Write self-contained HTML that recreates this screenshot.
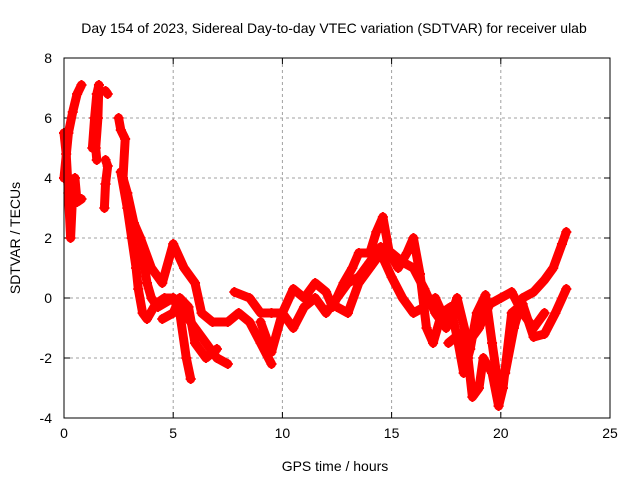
<!DOCTYPE html>
<html><head><meta charset="utf-8"><style>
body{margin:0;background:#fff}
svg text{font-family:"Liberation Sans",sans-serif;font-size:14px;fill:#000}
</style></head><body>
<svg id="chart" width="640" height="480" xmlns="http://www.w3.org/2000/svg">
<text x="334" y="33" text-anchor="middle">Day 154 of 2023, Sidereal Day-to-day VTEC variation (SDTVAR) for receiver ulab</text>
<g id="grid"></g>
<g id="axes"></g>
<g id="series"></g>
<rect x="64" y="58" width="546" height="360" fill="none" stroke="#000" stroke-width="1"/>
<text x="335" y="471" text-anchor="middle">GPS time / hours</text>
<text x="20" y="238" text-anchor="middle" transform="rotate(-90 20 238)">SDTVAR / TECUs</text>
</svg>
<script>
const xTicks=[0,5,10,15,20,25];
const yTicks=[-4,-2,0,2,4,6,8];
const arcA1=[[0,5.5],[0.1,4.8],[0.2,3.5],[0.3,2],[0.4,3.5],[0.5,4],[0.6,3.2],[0.8,3.3]];
const arcA2=[[0,4],[0.2,5.5],[0.4,6.2],[0.6,6.8],[0.8,7.1]];
const arcB=[[1.3,5],[1.4,6],[1.5,6.8],[1.6,7.1],[1.55,6],[1.45,5],[1.5,4.6]];
const arcC1=[[1.9,6.9],[2.0,6.8]];
const arcC2=[[1.9,4.6],[2.0,4.4],[1.9,3.8],[1.85,3]];
const arcD=[[2.5,6],[2.6,5.6],[2.8,5.3],[2.7,4],[2.9,3.5],[3.2,2.5],[3.5,2],[3.6,1.5],[3.8,0.5],[4,0],[4.3,-0.3],[5,0],[5.5,-0.5],[6,-1],[6.5,-1.5],[7,-2],[7.5,-2.2]];
const arcE=[[2.6,4.2],[2.9,3],[3.1,2],[3.3,1],[3.4,0.3],[3.6,-0.5],[3.8,-0.7],[4.2,-0.2],[4.6,0],[5,0],[5.3,-0.5],[5.6,-2],[5.8,-2.7]];
const arcF=[[3.5,2],[4,1],[4.5,0.5],[5,1.8],[5.5,1],[6,0.5],[6.3,-0.5],[6.8,-0.8],[7.5,-0.8],[8,-0.5],[8.5,-0.8],[9,-1.5],[9.5,-2.2]];
const arcG=[[4.5,-0.7],[5,-0.5],[5.3,0],[5.7,-0.3],[6,-1.5],[6.5,-2],[7,-1.7]];
const arcH=[[7.8,0.2],[8.5,0],[9,-0.5],[9.5,-0.5],[10,-0.5],[10.5,-1],[11,-0.3],[11.5,0],[12,-0.5],[12.5,0],[13,0.5],[13.5,0.7],[14,1.2],[14.5,1.7],[15,1.5],[15.5,1.2],[16,1.0],[16.5,0.3],[17,-0.5],[17.5,-1.0],[18,0],[18.5,-1.5],[19,-1],[19.5,-0.2],[20,0],[20.5,0.2],[21,-0.5],[21.5,-1],[22,-0.5]];
const arcI=[[9,-0.8],[9.5,-1.8],[10,-0.5],[10.5,0.3],[11,0],[11.5,0.5],[12,0.2],[12.3,-0.3],[12.8,0.5],[13.2,1],[13.5,1.5],[14,1.5],[14.3,2.2],[14.6,2.7],[14.9,1.5],[15.3,1.0],[15.7,1.5],[16,2.0],[16.3,0.8],[16.6,-1.0],[16.9,-1.5],[17.3,-0.5],[17.7,-0.3],[18,-1.3],[18.3,-2.5],[18.6,-1.7],[18.9,-0.5],[19.3,0.1],[19.6,-1.5],[19.9,-3.0],[20.2,-2.5],[20.6,-1],[21,0],[21.5,0.2],[22,0.6],[22.4,1],[22.8,1.8],[23,2.2]];
const arcJ=[[17.6,-1.5],[18.1,-1.2],[18.5,-2.0],[18.7,-3.3],[19,-3.0],[19.2,-2],[19.6,-2.5],[19.9,-3.6],[20.1,-3.0],[20.5,-0.5],[21,-0.2],[21.5,-1.3],[22,-1.2],[22.5,-0.5],[23,0.3]];
const arcK=[[12.5,-0.3],[13,-0.5],[13.5,0.5],[14,1.0],[14.5,1.5],[15,0.7],[15.5,0],[16,-0.5],[16.5,-0.3],[17,0],[17.5,-0.8],[18,-0.5]];
const arcs=[arcA1,arcA2,arcB,arcC1,arcC2,arcD,arcE,arcF,arcG,arcH,arcI,arcJ,arcK];

const NS='http://www.w3.org/2000/svg';
const X0=64,X1=610,Y0=418,Y1=58;
function sx(t){return X0+(t-0)/(25-0)*(X1-X0);}
function sy(v){return Y0-(v-(-4))/(8-(-4))*(Y0-Y1);}
function mk(tag,at,parent){const e=document.createElementNS(NS,tag);for(const k in at)e.setAttribute(k,at[k]);parent.appendChild(e);return e;}
const grid=document.getElementById('grid'),axes=document.getElementById('axes'),ser=document.getElementById('series');
xTicks.forEach(t=>{
  const x=sx(t);
  if(t>0&&t<25){const g=mk('line',{x1:x,x2:x,y1:Y1,y2:Y0,stroke:'#a0a0a0','stroke-dasharray':'3,3'},grid);
  
  }
  const tk=mk('line',{x1:x,x2:x,y1:Y0,y2:Y0-6,stroke:'#000'},axes);
  
  
  const tk2=mk('line',{x1:x,x2:x,y1:Y1,y2:Y1+6,stroke:'#000'},axes);
  
  
  const l=mk('text',{x:x,y:Y0+20,'text-anchor':'middle'},axes);l.textContent=t;
  
  
});
yTicks.forEach(v=>{
  const y=sy(v);
  if(v>-4&&v<8){const g=mk('line',{x1:X0,x2:X1,y1:y,y2:y,stroke:'#a0a0a0','stroke-dasharray':'3,3'},grid);
  
  }
  const tk=mk('line',{x1:X0,x2:X0+6,y1:y,y2:y,stroke:'#000'},axes);
  
  
  const tk2=mk('line',{x1:X1,x2:X1-6,y1:y,y2:y,stroke:'#000'},axes);
  
  
  const l=mk('text',{x:X0-12,y:y+5,'text-anchor':'end'},axes);l.textContent=v;
  
  
});
arcs.forEach(arc=>{
  const pts=arc.map(p=>sx(p[0]).toFixed(1)+','+sy(p[1]).toFixed(1)).join(' ');
  const pl=mk('polyline',{points:pts,fill:'none',stroke:'#ff0000','stroke-width':9,'stroke-linejoin':'round','stroke-linecap':'round'},ser);
  
  
  arc.forEach(p=>{
    const x=sx(p[0]),y=sy(p[1]);
    const m=mk('path',{d:`M${x-5},${y}H${x+5}M${x},${y-5}V${y+5}`,stroke:'#ff0000','stroke-width':2},ser);
    
    
  });
});
</script>
</body></html>
